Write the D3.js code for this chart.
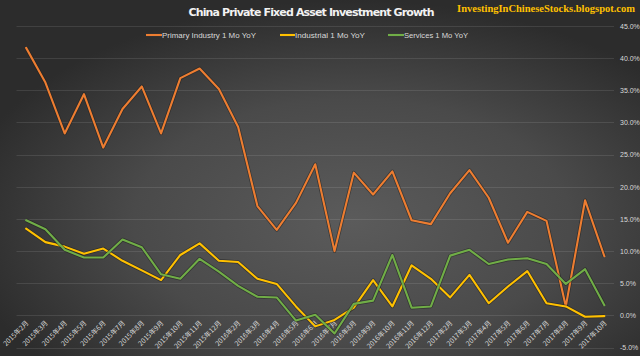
<!DOCTYPE html>
<html><head><meta charset="utf-8">
<script src="https://cdn.jsdelivr.net/npm/d3@7/dist/d3.min.js"></script>
<style>html,body{margin:0;padding:0;background:#333;}svg{display:block;}</style>
</head><body>
<script>
const months = ["2015年2月","2015年3月","2015年4月","2015年5月","2015年6月","2015年7月","2015年8月","2015年9月","2015年10月","2015年11月","2015年12月",
"2016年2月","2016年3月","2016年4月","2016年5月","2016年6月","2016年7月","2016年8月","2016年9月","2016年10月","2016年11月","2016年12月",
"2017年2月","2017年3月","2017年4月","2017年5月","2017年6月","2017年7月","2017年8月","2017年9月","2017年10月"];
const primary = [41.6,36.2,28.3,34.4,26.1,32.1,35.6,28.3,36.9,38.4,35.2,29.3,17.0,13.3,17.5,23.5,10.0,22.2,18.8,22.4,14.8,14.2,19.0,22.6,18.3,11.3,16.1,14.7,1.4,17.9,9.2];
const industrial = [13.5,11.4,10.7,9.6,10.4,8.5,7.0,5.5,9.4,11.2,8.5,8.3,5.7,4.9,1.4,-1.7,-0.7,1.2,5.5,1.4,7.8,5.7,2.8,6.3,1.9,4.5,6.9,1.9,1.4,-0.2,-0.1];
const services = [14.8,13.4,10.2,9.0,9.0,11.8,10.6,6.4,5.7,8.8,6.8,4.6,2.9,2.8,-0.8,0.1,-2.8,1.8,2.3,9.4,1.2,1.4,9.3,10.2,8.0,8.7,8.9,8.0,4.9,7.2,1.6];
const seriesNames = ["Primary Industry 1 Mo YoY","Industrial 1 Mo YoY","Services 1 Mo YoY"];
const seriesColors = ["#ED7D31","#FFC000","#70AD47"];
const yTicks = [-5,0,5,10,15,20,25,30,35,40,45];

const W = 640, H = 356;
const svg = d3.select("body").append("svg").attr("width", W).attr("height", H);
const defs = svg.append("defs");
const rg = defs.append("radialGradient").attr("id","bg").attr("cx","55%").attr("cy","62%").attr("r","62%");
rg.append("stop").attr("offset","0%").attr("stop-color","#5b5b5b");
rg.append("stop").attr("offset","55%").attr("stop-color","#4a4a4a");
rg.append("stop").attr("offset","100%").attr("stop-color","#2c2c2c");
svg.append("rect").attr("width",W).attr("height",H).attr("fill","url(#bg)");

const x = d3.scaleBand().domain(months).range([16.5, 614]);
const y = d3.scaleLinear().domain([-5, 45]).range([347.6, 26]);

// gridlines
svg.append("g").selectAll("line").data(yTicks).join("line")
  .attr("x1", 16.5).attr("x2", 614)
  .attr("y1", d => Math.round(y(d)) + 0.5).attr("y2", d => Math.round(y(d)) + 0.5)
  .attr("stroke", "#ffffff").attr("stroke-opacity", 0.1).attr("stroke-width", 1);

// y axis labels (right)
const yAxis = d3.axisRight(y).tickValues(yTicks).tickFormat(d => d.toFixed(1) + "%").tickSize(0).tickPadding(6);
const gy = svg.append("g").attr("transform","translate(614,0)").call(yAxis);
gy.select(".domain").remove();
gy.selectAll("text").attr("fill","#d9d9d9").style("font-family","'Liberation Sans', Arial, sans-serif").style("font-size","7px");

// x axis labels
const xAxis = d3.axisBottom(x).tickSize(0).tickPadding(0);
const gx = svg.append("g").attr("transform", `translate(0,${y(0)})`).call(xAxis);
gx.select(".domain").remove();
gx.selectAll("text")
  .attr("fill","#d9d9d9").style("font-family","'Noto Sans CJK SC', sans-serif").style("font-size","6.8px")
  .attr("text-anchor","end").attr("dy","0").attr("y",0)
  .attr("transform","translate(3,8) rotate(-45)");

// lines
const line = d3.line().x((d,i) => x(months[i]) + x.bandwidth()/2).y(d => y(d));
const data = [primary, industrial, services];
const lg = svg.append("g");
data.forEach((s, k) => {
  lg.append("path").datum(s).attr("d", line).attr("fill","none")
    .attr("stroke","#1e1e1e").attr("stroke-opacity",0.55).attr("stroke-width",3.6).attr("stroke-linejoin","round");
  lg.append("path").datum(s).attr("d", line).attr("fill","none")
    .attr("stroke", seriesColors[k]).attr("stroke-width",2.1).attr("stroke-linejoin","round").attr("stroke-linecap","round");
});

// title
svg.append("text").attr("x", 311.5).attr("y", 16).attr("text-anchor","middle")
  .attr("fill","#f2f2f2").style("font-family","'DejaVu Sans', sans-serif").style("font-weight","bold").style("font-size","11px")
  .attr("textLength", 246).attr("lengthAdjust","spacing")
  .text("China Private Fixed Asset Investment Growth");

// watermark: size the font so its natural width fits 178px
const wm = svg.append("text").attr("x", 635).attr("y", 12).attr("text-anchor","end")
  .attr("fill","#FFC000").style("font-family","'Liberation Serif', 'DejaVu Serif', serif").style("font-weight","bold").style("font-size","10px")
  .text("InvestingInChineseStocks.blogspot.com");
const natural = wm.node().getComputedTextLength();
wm.style("font-size", (10 * 178 / natural).toFixed(2) + "px");

// legend
const legendPos = [{lx:146, tx:162, tw:94},{lx:280, tx:295, tw:70},{lx:388, tx:404, tw:64}];
const leg = svg.append("g");
seriesNames.forEach((n,k) => {
  const p = legendPos[k];
  leg.append("line").attr("x1", p.lx).attr("x2", p.tx).attr("y1", 35).attr("y2", 35)
    .attr("stroke", seriesColors[k]).attr("stroke-width", 2.1);
  leg.append("text").attr("x", p.tx).attr("y", 38).attr("fill","#d9d9d9")
    .style("font-family","'Liberation Sans', Arial, sans-serif").style("font-size","8px")
    .attr("textLength", p.tw).attr("lengthAdjust","spacingAndGlyphs").text(n);
});
</script>
</body></html>
